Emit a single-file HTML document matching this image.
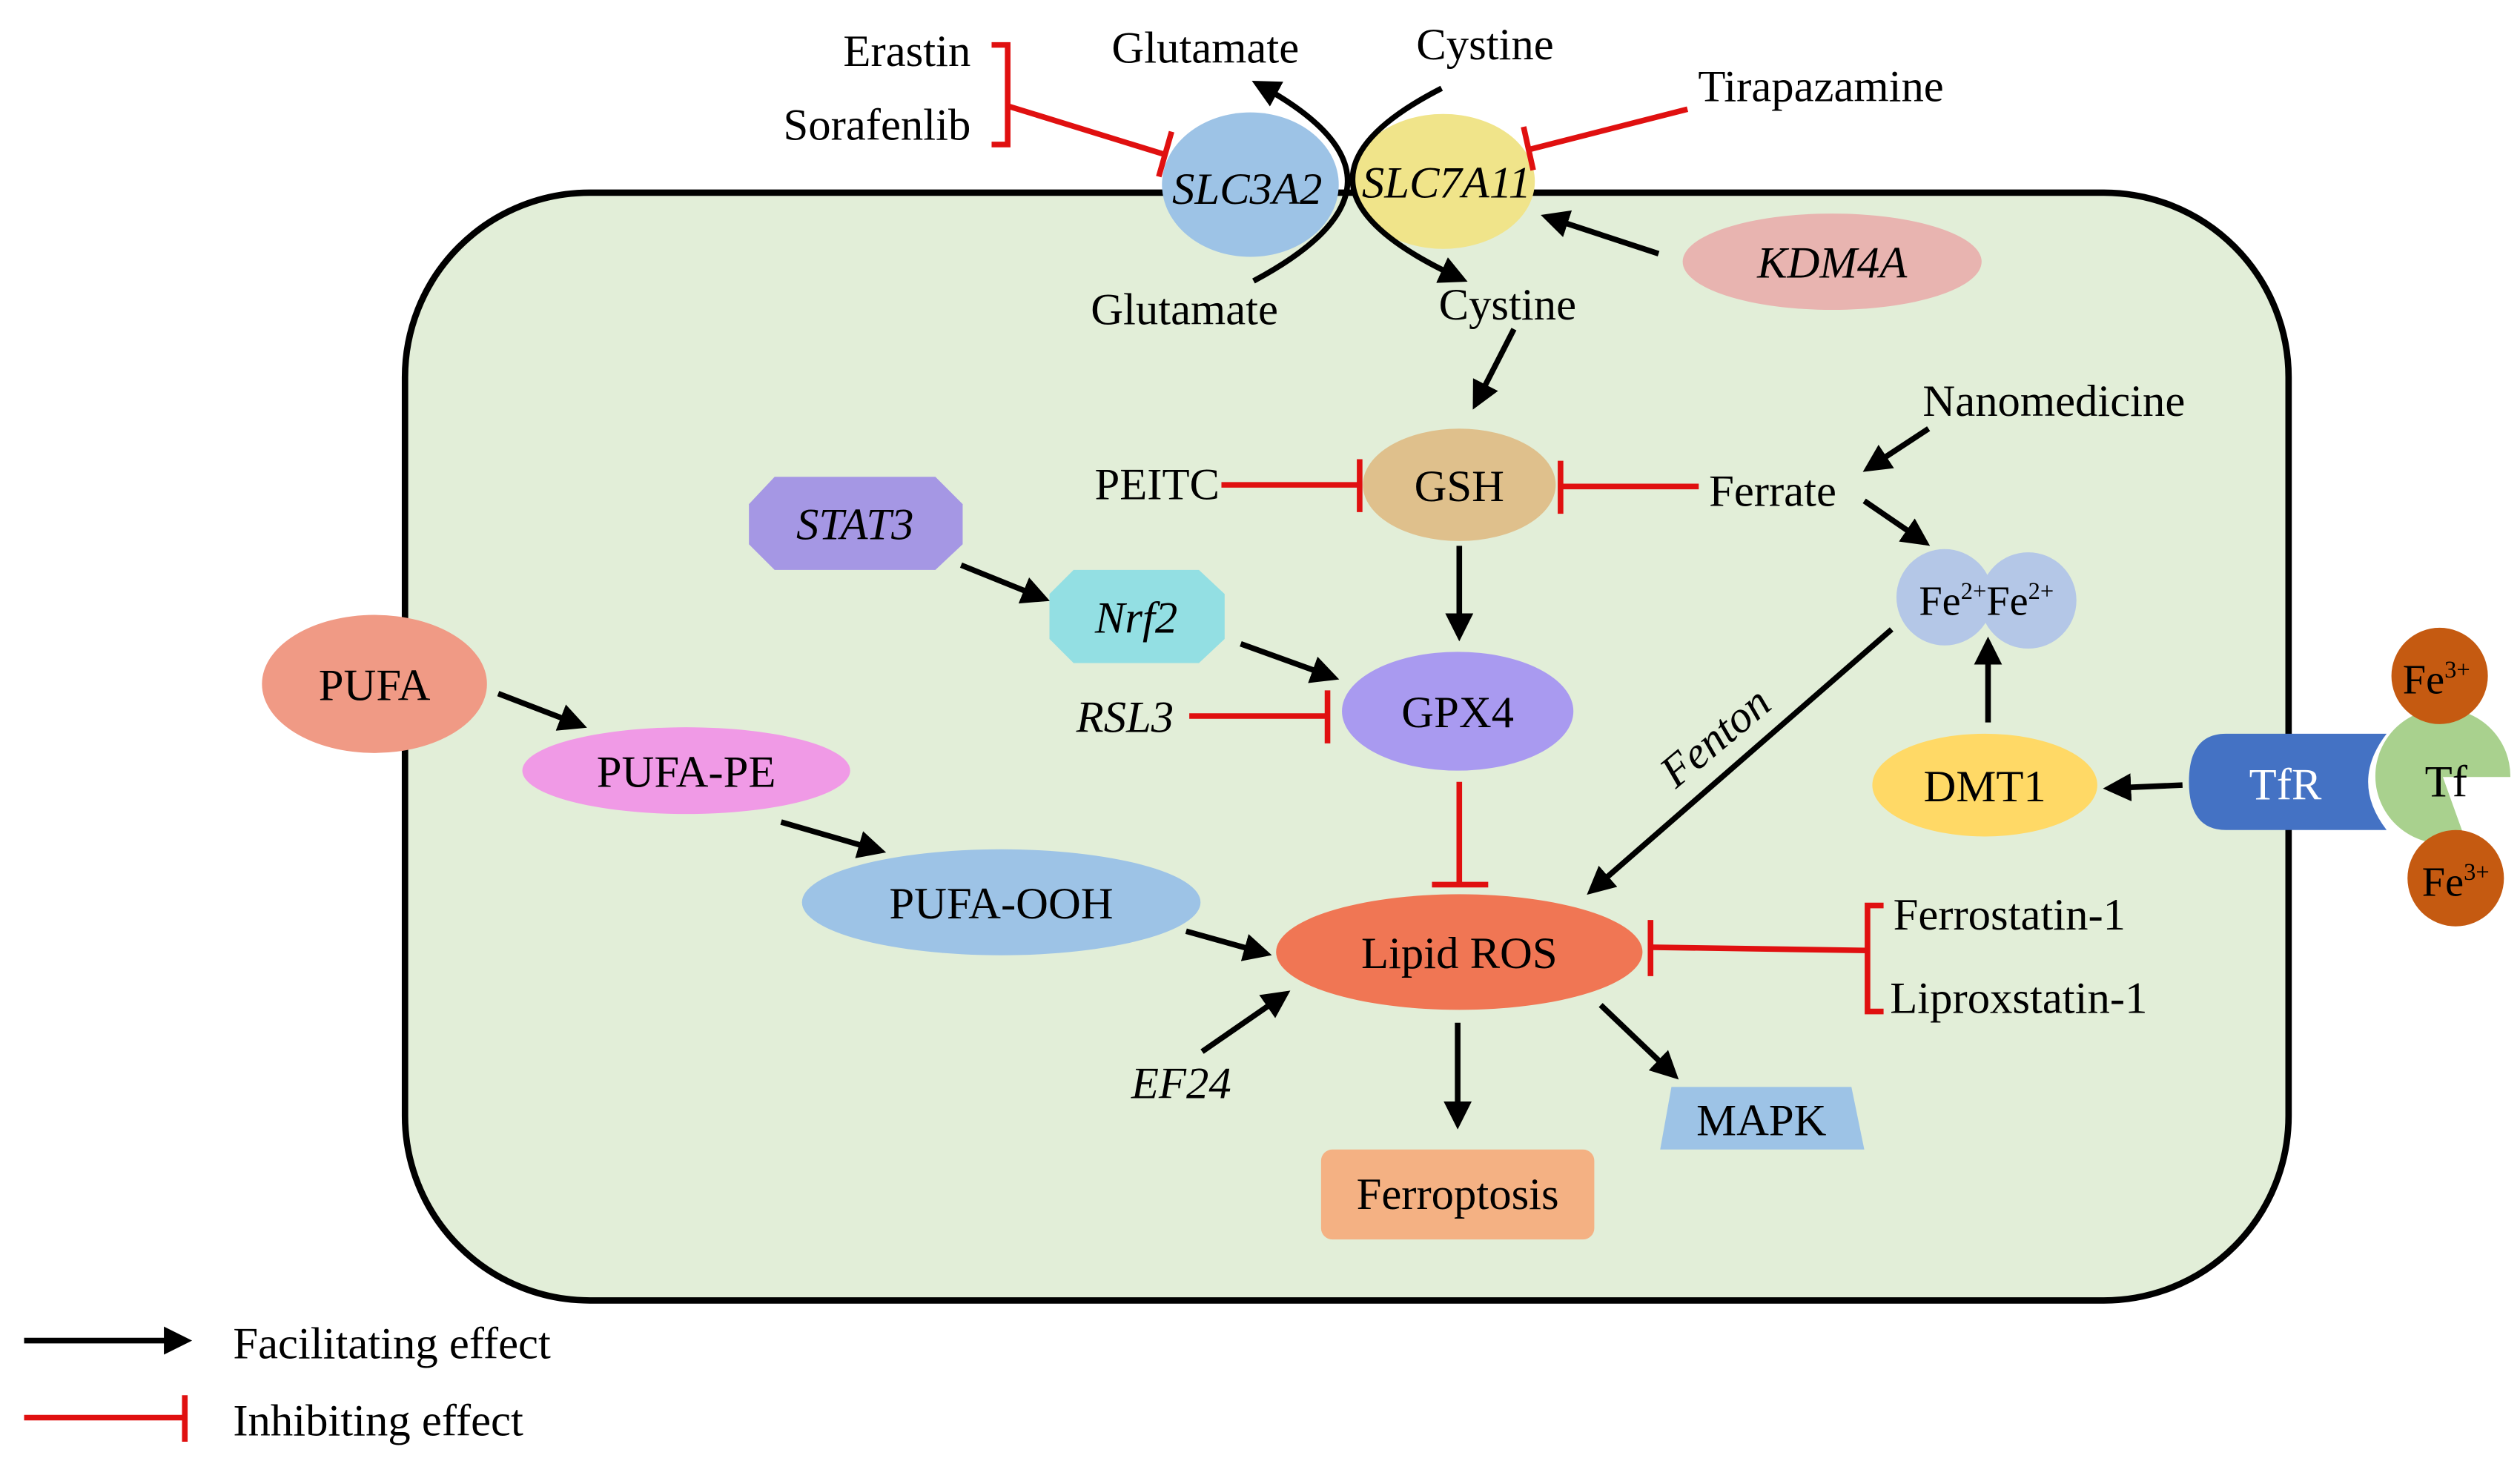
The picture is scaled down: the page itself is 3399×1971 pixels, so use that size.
<!DOCTYPE html>
<html><head><meta charset="utf-8"><style>html,body{margin:0;padding:0;background:#fff}svg{display:block}</style></head>
<body>
<svg width="3399" height="1971" viewBox="0 0 1568 910" preserveAspectRatio="none" xmlns="http://www.w3.org/2000/svg" font-family="Liberation Serif, serif" font-size="28" text-anchor="middle">
<defs>
<marker id="a" markerWidth="5" markerHeight="5" refX="4" refY="2.5" orient="auto" markerUnits="strokeWidth"><path d="M0,0 L5,2.5 L0,5 z" fill="#000"/></marker>
</defs>
<rect x="252" y="120" width="1172" height="690" rx="115" ry="115" fill="#e2eed8" stroke="#000" stroke-width="4"/>
<ellipse cx="778" cy="115" rx="55" ry="45" fill="#9dc3e6"/>
<ellipse cx="898" cy="113" rx="57" ry="42" fill="#f0e48a"/>
<text x="776" y="127" font-style="italic">SLC3A2</text>
<text x="900" y="123" font-style="italic">SLC7A11</text>
<g fill="none" stroke="#000" stroke-width="3.5">
<path d="M780,175 Q896,113 782,52" marker-end="url(#a)"/>
<path d="M897,55 Q780,115 910,174" marker-end="url(#a)"/>
<path d="M1032,158 L962,135" marker-end="url(#a)"/>
<path d="M942,205 L918,252" marker-end="url(#a)"/>
<path d="M1200,267 L1162,292" marker-end="url(#a)"/>
<path d="M1160,312 L1198,338" marker-end="url(#a)"/>
<path d="M1237,450 L1237,400" marker-end="url(#a)"/>
<path d="M1358,489 L1312,491" marker-end="url(#a)"/>
<path d="M1177,392 L990,555" marker-end="url(#a)"/>
<path d="M598,352 L650,373" marker-end="url(#a)"/>
<path d="M772,401 L830,422" marker-end="url(#a)"/>
<path d="M908,340 L908,396" marker-end="url(#a)"/>
<path d="M310,432 L362,452" marker-end="url(#a)"/>
<path d="M486,512 L548,530" marker-end="url(#a)"/>
<path d="M738,580 L788,594" marker-end="url(#a)"/>
<path d="M748,655 L800,619" marker-end="url(#a)"/>
<path d="M907,637 L907,700" marker-end="url(#a)"/>
<path d="M996,626 L1042,670" marker-end="url(#a)"/>
<path d="M15,835 L116,835" marker-end="url(#a)"/>
</g>
<g fill="none" stroke="#e01010" stroke-width="3.5">
<path d="M617,28 H627 V90 H617"/>
<path d="M627,66 L724,96"/><path d="M729,82 L721,110"/>
<path d="M1050,68 L952,93"/><path d="M948,79 L954,106"/>
<path d="M760,302 H845"/><path d="M846,286 V319"/>
<path d="M1057,303 H972"/><path d="M971,287 V320"/>
<path d="M740,446 H825"/><path d="M826,430 V463"/>
<path d="M908,487 V550"/><path d="M891,551 H926"/>
<path d="M1172,564 H1162 V630 H1172"/>
<path d="M1162,592 L1028,590"/><path d="M1027,573 V608"/>
<path d="M15,883 H114"/><path d="M115,869 V898"/>
</g>
<ellipse cx="1140" cy="163" rx="93" ry="30" fill="#e8b4b0"/>
<text x="1140" y="173" font-style="italic">KDM4A</text>
<ellipse cx="908" cy="302" rx="60" ry="35" fill="#dfc08c"/>
<text x="908" y="312">GSH</text>
<circle cx="1210" cy="372" r="30" fill="#b4c7e7"/><circle cx="1262" cy="374" r="30" fill="#b4c7e7"/>
<text x="1236" y="383" font-size="26">Fe<tspan font-size="15" dy="-10">2+</tspan><tspan dy="10">Fe</tspan><tspan font-size="15" dy="-10">2+</tspan></text>
<ellipse cx="1235" cy="489" rx="70" ry="32" fill="#ffd966"/>
<text x="1235" y="499">DMT1</text>
<path d="M1385,457 H1485 Q1462,487 1485,517 H1385 Q1362,517 1362,487 Q1362,457 1385,457 z" fill="#4472c4"/>
<text x="1422" y="498" fill="#fff">TfR</text>
<path d="M1520,484 L1534,523 A42,42 0 1 1 1562,484 Z" fill="#a9d18e"/>
<text x="1522" y="496">Tf</text>
<circle cx="1518" cy="421" r="30" fill="#c55a11"/><circle cx="1528" cy="547" r="30" fill="#c55a11"/>
<text x="1516" y="432" font-size="26">Fe<tspan font-size="15" dy="-10">3+</tspan></text>
<text x="1528" y="558" font-size="26">Fe<tspan font-size="15" dy="-10">3+</tspan></text>
<polygon points="482,297 582,297 599,314 599,339 582,355 482,355 466,339 466,314" fill="#a597e4"/>
<text x="532" y="336" font-style="italic">STAT3</text>
<polygon points="668,355 746,355 762,370 762,398 746,413 668,413 653,398 653,370" fill="#93dfe3"/>
<text x="707" y="394" font-style="italic">Nrf2</text>
<ellipse cx="907" cy="443" rx="72" ry="37" fill="#a99af0"/>
<text x="907" y="453">GPX4</text>
<ellipse cx="908" cy="593" rx="114" ry="36" fill="#f07654"/>
<text x="908" y="603">Lipid ROS</text>
<ellipse cx="233" cy="426" rx="70" ry="43" fill="#f09a85"/>
<text x="233" y="436">PUFA</text>
<ellipse cx="427" cy="480" rx="102" ry="27" fill="#f09ae6"/>
<text x="427" y="490">PUFA-PE</text>
<ellipse cx="623" cy="562" rx="124" ry="33" fill="#9dc3e6"/>
<text x="623" y="572">PUFA-OOH</text>
<rect x="822" y="716" width="170" height="56" rx="7" fill="#f4b183"/>
<text x="907" y="753">Ferroptosis</text>
<polygon points="1040,677 1152,677 1160,716 1033,716" fill="#9dc3e6"/>
<text x="1096" y="707">MAPK</text>
<text x="750" y="39">Glutamate</text>
<text x="924" y="37">Cystine</text>
<text x="737" y="202">Glutamate</text>
<text x="938" y="199">Cystine</text>
<text x="604" y="41" text-anchor="end">Erastin</text>
<text x="604" y="87" text-anchor="end">Sorafenlib</text>
<text x="1133" y="63">Tirapazamine</text>
<text x="1278" y="259">Nanomedicine</text>
<text x="720" y="311">PEITC</text>
<text x="1103" y="315">Ferrate</text>
<text x="700" y="456" font-style="italic">RSL3</text>
<text x="735" y="684" font-style="italic">EF24</text>
<text x="1068" y="468" font-style="italic" transform="rotate(-40 1068 460)">Fenton</text>
<text x="1178" y="579" text-anchor="start">Ferrostatin-1</text>
<text x="1176" y="631" text-anchor="start">Liproxstatin-1</text>
<text x="145" y="846" text-anchor="start">Facilitating effect</text>
<text x="145" y="894" text-anchor="start">Inhibiting effect</text>
</svg>
</body></html>
